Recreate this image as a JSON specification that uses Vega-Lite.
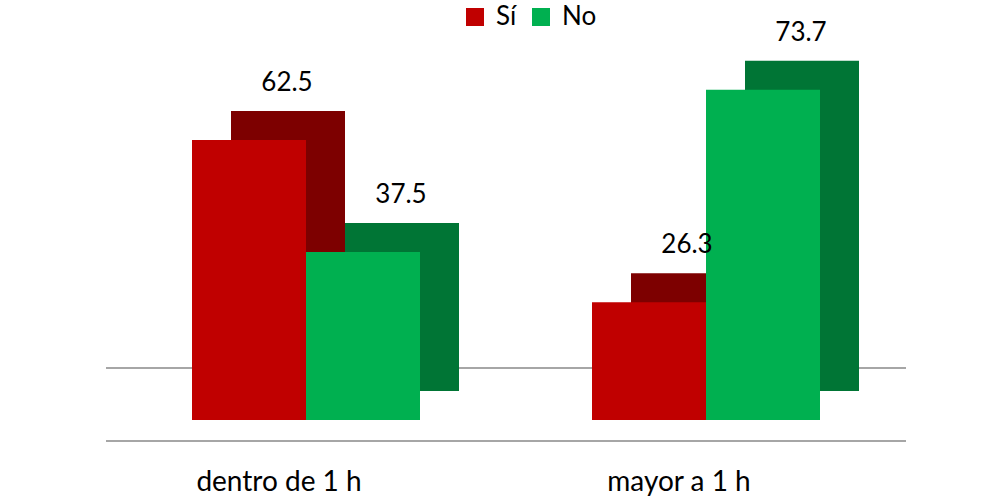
{
  "$schema": "https://vega.github.io/schema/vega-lite/v6.json",
  "width": 800,
  "height": 380,
  "autosize": {"type": "none"},
  "padding": {"left": 106, "top": 40, "right": 75, "bottom": 79},
  "background": "white",
  "config": {"view": {"stroke": null}, "font": "Lato"},
  "data": {
    "values": [
      {"cat": "dentro de 1 h", "resp": "Sí", "value": 62.5},
      {"cat": "dentro de 1 h", "resp": "No", "value": 37.5},
      {"cat": "mayor a 1 h", "resp": "Sí", "value": 26.3},
      {"cat": "mayor a 1 h", "resp": "No", "value": 73.7}
    ]
  },
  "resolve": {"scale": {"xOffset": "independent"}},
  "layer": [
    {
      "mark": {"type": "rule", "color": "#a6a6a6", "strokeWidth": 1.5, "yOffset": -52},
      "encoding": {"y": {"datum": 0, "type": "quantitative", "scale": {"domain": [0, 84.82], "nice": false}, "axis": null}}
    },
    {
      "mark": {"type": "rule", "color": "#a6a6a6", "strokeWidth": 1.5, "yOffset": 21},
      "encoding": {"y": {"datum": 0, "type": "quantitative"}}
    },
    {
      "mark": {"type": "bar", "yOffset": -29, "y2Offset": -29},
      "encoding": {
        "x": {
          "field": "cat", "type": "nominal", "sort": null,
          "scale": {"paddingInner": 0.43, "paddingOuter": 0.215},
          "axis": {"title": null, "domain": false, "ticks": false, "labelAngle": 0, "labelFontSize": 28, "labelColor": "#000000", "labelPadding": 48, "labelOffset": -27, "labelFont": "Lato"}
        },
        "xOffset": {"field": "resp", "type": "nominal", "sort": ["Sí", "No"], "scale": {"domain": ["Sí", "No"], "range": [39, 267], "paddingInner": 0, "paddingOuter": 0}},
        "y": {"field": "value", "type": "quantitative"},
        "color": {"condition": {"test": "datum.resp === 'Sí'", "value": "#7d0000"}, "value": "#007535"}
      }
    },
    {
      "encoding": {
        "x": {
          "field": "cat", "type": "nominal", "sort": null,
          "axis": {"title": null, "domain": false, "ticks": false, "labelAngle": 0, "labelFontSize": 28, "labelColor": "#000000", "labelPadding": 48, "labelOffset": -27, "labelFont": "Lato"}
        },
        "xOffset": {"field": "resp", "type": "nominal", "sort": ["Sí", "No"], "scale": {"paddingInner": 0, "paddingOuter": 0}},
        "y": {"field": "value", "type": "quantitative"}
      },
      "layer": [
        {
          "mark": {"type": "bar"},
          "encoding": {
            "color": {
              "field": "resp", "type": "nominal",
              "scale": {"domain": ["Sí", "No"], "range": ["#C00000", "#00B050"]},
              "legend": {
                "title": null, "orient": "none", "direction": "horizontal",
                "legendX": 356, "legendY": -36,
                "symbolType": "square", "symbolSize": 324, "symbolStrokeWidth": 0,
                "labelFontSize": 26, "labelFont": "Lato", "labelColor": "#000000", "labelOffset": 8,
                "columnPadding": 11, "padding": 0
              }
            }
          }
        },
        {
          "mark": {"type": "text", "fontSize": 26, "font": "Lato", "color": "#000000", "dx": 38, "dy": -57, "baseline": "middle"},
          "encoding": {"text": {"field": "value", "type": "quantitative", "format": ".1f"}}
        }
      ]
    }
  ]
}
